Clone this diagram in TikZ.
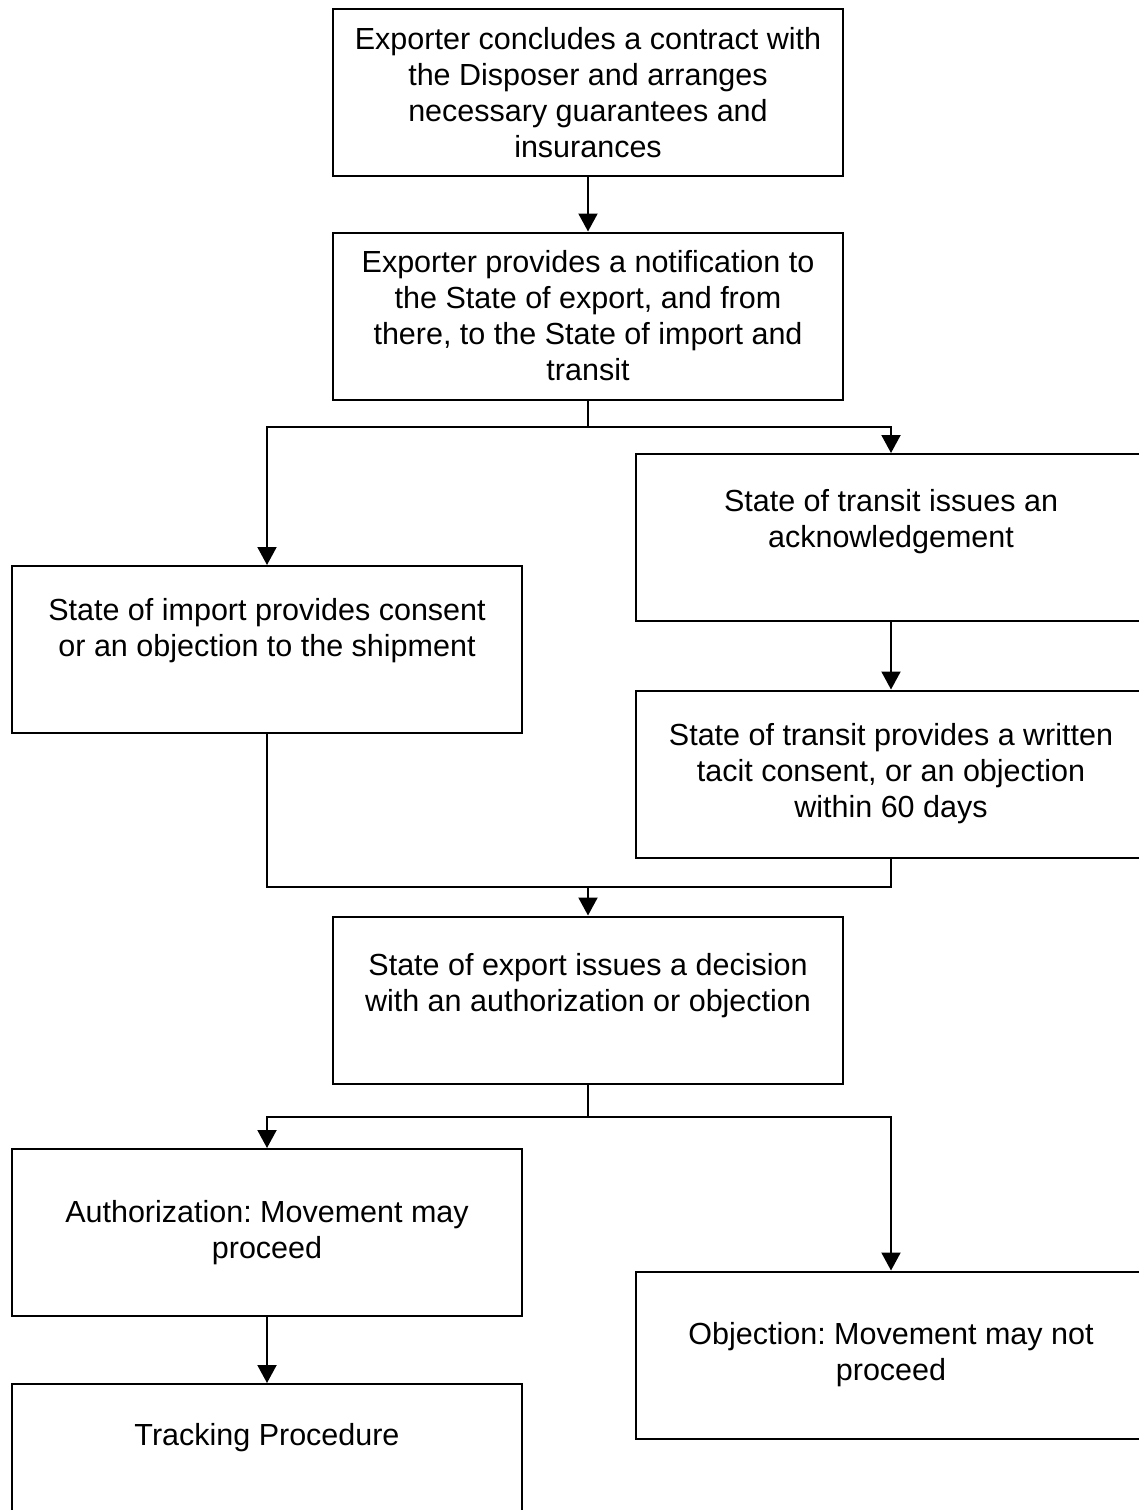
\documentclass[tikz,border=0pt]{standalone}
\usepackage{fontspec}
\setmainfont{Liberation Sans}
\usetikzlibrary{arrows.meta}
\frenchspacing
\begin{document}
\begin{tikzpicture}[x=1pt,y=-1pt,
  box/.style={draw=black,line width=2pt,minimum width=510pt,minimum height=167pt,inner sep=0pt,fill=white},
  txt/.style={align=center,inner sep=0pt,font=\frenchspacing\fontsize{30.5}{36}\selectfont},
  conn/.style={draw=black,line width=2pt},
  arr/.style={conn,-{Triangle[length=18pt,width=19pt]}}]
\useasboundingbox (0,0) rectangle (1139,1510);
% boxes
\node[box] (b1) at (588,92.5) {};
\node[box] (b2) at (588,316) {};
\node[box] (b3) at (267,649.5) {};
\node[box] (b4) at (891,537.5) {};
\node[box] (b5) at (891,774) {};
\node[box] (b6) at (588,1000) {};
\node[box] (b7) at (267,1232.5) {};
\node[box] (b8) at (891,1355) {};
\node[box] (b9) at (267,1467.5) {};
% texts
\node[txt] (t1) at (b1.center) {Exporter concludes a contract with\\the Disposer and arranges\\necessary guarantees and\\insurances};
\node[txt] (t2) at (b2.center) {Exporter provides a notification to\\the State of export, and from\\there, to the State of import and\\transit};
\node[txt] (t3) at ([yshift=18.5pt]b3.center) {State of import provides consent\\or an objection to the shipment};
\node[txt] (t4) at ([yshift=16pt]b4.center) {State of transit issues an\\acknowledgement};
\node[txt] (t5) at (b5.center) {State of transit provides a written\\tacit consent, or an objection\\within 60 days};
\node[txt] (t6) at ([yshift=14.5pt]b6.center) {State of export issues a decision\\with an authorization or objection};
\node[txt] (t7) at (b7.center) {Authorization: Movement may\\proceed};
\node[txt] (t8) at (b8.center) {Objection: Movement may not\\proceed};
\node[txt] (t9) at ([yshift=29.5pt]b9.center) {Tracking Procedure};
% junction points
\coordinate (s1) at (588,427);
\coordinate (j1) at (588,887);
\coordinate (s2) at (588,1117);
% connectors
\draw[arr] (b1.south) -- (b2.north);
\draw[conn] (b2.south) -- (s1);
\draw[arr] (s1) -| (b3.north);
\draw[arr] (s1) -| (b4.north);
\draw[arr] (b4.south) -- (b5.north);
\draw[conn] (b3.south) |- (j1);
\draw[conn] (b5.south) |- (j1);
\draw[arr] (j1) -- (b6.north);
\draw[conn] (b6.south) -- (s2);
\draw[arr] (s2) -| (b7.north);
\draw[arr] (s2) -| (b8.north);
\draw[arr] (b7.south) -- (b9.north);
\end{tikzpicture}
\end{document}
